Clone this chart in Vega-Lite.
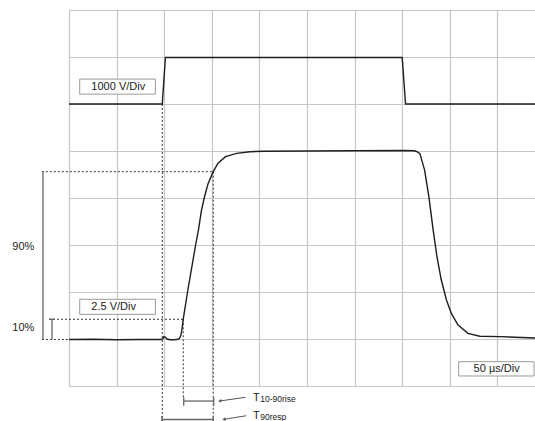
{
  "$schema": "https://vega.github.io/schema/vega-lite/v6.json",
  "width": 466,
  "height": 376,
  "autosize": {"type": "none"},
  "padding": {"left": 69, "top": 10, "right": 0, "bottom": 35},
  "background": "white",
  "config": {"view": {"stroke": null}, "font": "Liberation Sans"},
  "datasets": {
    "traces": [
      {"ch": "A", "t": 0, "v": 6.0},
      {"ch": "A", "t": 1.96, "v": 6.0},
      {"ch": "A", "t": 2.025, "v": 6.99},
      {"ch": "A", "t": 7.0, "v": 6.99},
      {"ch": "A", "t": 7.07, "v": 6.0},
      {"ch": "A", "t": 9.79, "v": 6.0},
      {"ch": "B", "t": 0, "v": 0.99},
      {"ch": "B", "t": 0.5, "v": 0.995},
      {"ch": "B", "t": 1.0, "v": 0.985},
      {"ch": "B", "t": 1.5, "v": 0.99},
      {"ch": "B", "t": 1.93, "v": 0.99},
      {"ch": "B", "t": 1.97, "v": 1.0},
      {"ch": "B", "t": 1.995, "v": 1.05},
      {"ch": "B", "t": 2.02, "v": 1.04},
      {"ch": "B", "t": 2.06, "v": 1.0},
      {"ch": "B", "t": 2.12, "v": 0.985},
      {"ch": "B", "t": 2.22, "v": 0.985},
      {"ch": "B", "t": 2.29, "v": 0.995},
      {"ch": "B", "t": 2.325, "v": 1.02},
      {"ch": "B", "t": 2.35, "v": 1.08},
      {"ch": "B", "t": 2.37, "v": 1.18},
      {"ch": "B", "t": 2.40, "v": 1.42},
      {"ch": "B", "t": 2.49, "v": 2.0},
      {"ch": "B", "t": 2.66, "v": 3.0},
      {"ch": "B", "t": 2.72, "v": 3.32},
      {"ch": "B", "t": 2.78, "v": 3.72},
      {"ch": "B", "t": 2.84, "v": 4.0},
      {"ch": "B", "t": 2.92, "v": 4.3},
      {"ch": "B", "t": 3.03, "v": 4.56},
      {"ch": "B", "t": 3.13, "v": 4.74},
      {"ch": "B", "t": 3.29, "v": 4.88},
      {"ch": "B", "t": 3.52, "v": 4.95},
      {"ch": "B", "t": 3.8, "v": 4.985},
      {"ch": "B", "t": 4.1, "v": 4.995},
      {"ch": "B", "t": 5.0, "v": 5.0},
      {"ch": "B", "t": 6.0, "v": 5.005},
      {"ch": "B", "t": 7.0, "v": 5.01},
      {"ch": "B", "t": 7.25, "v": 5.005},
      {"ch": "B", "t": 7.3, "v": 4.99},
      {"ch": "B", "t": 7.37, "v": 4.95},
      {"ch": "B", "t": 7.47, "v": 4.6},
      {"ch": "B", "t": 7.56, "v": 4.03},
      {"ch": "B", "t": 7.65, "v": 3.32},
      {"ch": "B", "t": 7.73, "v": 2.75},
      {"ch": "B", "t": 7.82, "v": 2.26},
      {"ch": "B", "t": 7.93, "v": 1.83},
      {"ch": "B", "t": 8.03, "v": 1.55},
      {"ch": "B", "t": 8.17, "v": 1.3},
      {"ch": "B", "t": 8.38, "v": 1.12},
      {"ch": "B", "t": 8.63, "v": 1.06},
      {"ch": "B", "t": 9.05, "v": 1.05},
      {"ch": "B", "t": 9.79, "v": 1.02}
    ],
    "dotted": [
      {"t": 1.96, "v": 6.0, "t2": 1.96, "v2": -0.75},
      {"t": 2.40, "v": 1.42, "t2": 2.40, "v2": -0.24},
      {"t": 3.03, "v": 4.56, "t2": 3.03, "v2": -0.75},
      {"t": -0.57, "v": 4.56, "t2": 3.03, "v2": 4.56},
      {"t": -0.42, "v": 1.42, "t2": 2.40, "v2": 1.42},
      {"t": -0.57, "v": 0.99, "t2": 0, "v2": 0.99}
    ],
    "solid": [
      {"t": -0.546, "v": 0.99, "t2": -0.546, "v2": 4.56},
      {"t": -0.357, "v": 0.99, "t2": -0.357, "v2": 1.42},
      {"t": -0.42, "v": 1.42, "t2": -0.30, "v2": 1.42},
      {"t": 2.41, "v": -0.32, "t2": 3.04, "v2": -0.32},
      {"t": 2.41, "v": -0.24, "t2": 2.41, "v2": -0.42},
      {"t": 3.04, "v": -0.24, "t2": 3.04, "v2": -0.42},
      {"t": 1.95, "v": -0.713, "t2": 3.03, "v2": -0.713},
      {"t": 1.95, "v": -0.64, "t2": 1.95, "v2": -0.8},
      {"t": 3.03, "v": -0.64, "t2": 3.03, "v2": -0.8}
    ],
    "arrows": [
      {"t": 3.166, "v": -0.319, "t2": 3.705, "v2": -0.241},
      {"t": 3.256, "v": -0.709, "t2": 3.727, "v2": -0.632}
    ],
    "boxes": [
      {"t": 0.225, "t2": 1.815, "v": 6.53, "v2": 6.21},
      {"t": 0.225, "t2": 1.815, "v": 1.845, "v2": 1.525},
      {"t": 8.187, "t2": 9.77, "v": 0.517, "v2": 0.213}
    ],
    "labels": [
      {"kind": "main", "t": -1.19, "v": 2.964, "text": "90%"},
      {"kind": "main", "t": -1.19, "v": 1.228, "text": "10%"},
      {"kind": "main", "t": 0.47, "v": 6.36, "text": "1000 V/Div"},
      {"kind": "main", "t": 0.47, "v": 1.68, "text": "2.5 V/Div"},
      {"kind": "main", "t": 8.5, "v": 0.36, "text": "50 µs/Div"},
      {"kind": "T", "t": 3.866, "v": -0.326, "text": "T"},
      {"kind": "T", "t": 3.866, "v": -0.7, "text": "T"},
      {"kind": "sub", "t": 4.017, "v": -0.34, "text": "10-90rise"},
      {"kind": "sub", "t": 4.017, "v": -0.715, "text": "90resp"}
    ]
  },
  "encoding": {
    "x": {
      "field": "t",
      "type": "quantitative",
      "scale": {"domain": [0, 9.79], "nice": false, "zero": false},
      "axis": {
        "values": [0, 1, 2, 3, 4, 5, 6, 7, 8, 9],
        "grid": true, "labels": false, "ticks": false, "domain": false, "title": null,
        "gridColor": "#c6c6c6", "gridWidth": 1.2
      }
    },
    "y": {
      "field": "v",
      "type": "quantitative",
      "scale": {"domain": [0, 8], "nice": false, "zero": false},
      "axis": {
        "values": [0, 1, 2, 3, 4, 5, 6, 7, 8],
        "grid": true, "labels": false, "ticks": false, "domain": false, "title": null,
        "gridColor": "#c6c6c6", "gridWidth": 1.2
      }
    }
  },
  "layer": [
    {
      "data": {"name": "boxes"},
      "mark": {"type": "rect", "fill": "white", "stroke": "#9a9a9a", "strokeWidth": 1},
      "encoding": {"x2": {"field": "t2"}, "y2": {"field": "v2"}}
    },
    {
      "data": {"name": "dotted"},
      "mark": {"type": "rule", "color": "#333333", "strokeWidth": 1, "strokeDash": [2, 2]},
      "encoding": {"x2": {"field": "t2"}, "y2": {"field": "v2"}}
    },
    {
      "data": {"name": "solid"},
      "mark": {"type": "rule", "color": "#666666", "strokeWidth": 1.3},
      "encoding": {"x2": {"field": "t2"}, "y2": {"field": "v2"}}
    },
    {
      "data": {"name": "arrows"},
      "mark": {"type": "rule", "color": "#555555", "strokeWidth": 1},
      "encoding": {"x2": {"field": "t2"}, "y2": {"field": "v2"}}
    },
    {
      "data": {"name": "arrows"},
      "mark": {"type": "point", "shape": "triangle-left", "filled": true, "color": "#555555", "size": 14, "angle": 352, "opacity": 1},
      "encoding": {}
    },
    {
      "data": {"name": "traces"},
      "mark": {"type": "line", "color": "#1e1e1e", "strokeWidth": 1.4},
      "encoding": {"detail": {"field": "ch", "type": "nominal"}}
    },
    {
      "data": {"name": "labels"},
      "transform": [{"filter": "datum.kind === 'main'"}],
      "mark": {"type": "text", "align": "left", "baseline": "middle", "fontSize": 11, "color": "#222222"},
      "encoding": {"text": {"field": "text"}}
    },
    {
      "data": {"name": "labels"},
      "transform": [{"filter": "datum.kind === 'T'"}],
      "mark": {"type": "text", "align": "left", "baseline": "alphabetic", "fontSize": 11, "color": "#222222"},
      "encoding": {"text": {"field": "text"}}
    },
    {
      "data": {"name": "labels"},
      "transform": [{"filter": "datum.kind === 'sub'"}],
      "mark": {"type": "text", "align": "left", "baseline": "alphabetic", "fontSize": 8.5, "color": "#222222"},
      "encoding": {"text": {"field": "text"}}
    }
  ]
}
